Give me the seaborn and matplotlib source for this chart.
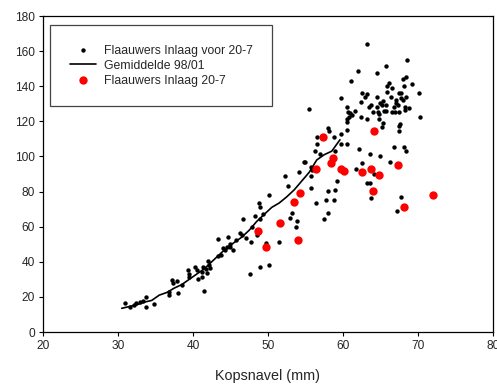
import numpy as np
import pandas as pd
import matplotlib
matplotlib.use('Agg')
import matplotlib.pyplot as plt
import seaborn as sns

# Flaauwers Inlaag voor 20-7 (zwarte punten)
voor_x = [31.0, 31.6, 32.2, 32.4, 32.9, 33.4, 33.7, 33.7, 34.8, 36.8, 36.8, 37.2, 37.3, 37.9,
          38.0, 38.5, 39.3, 39.5, 39.5, 40.3, 40.6, 40.7, 41.2, 41.2, 41.3, 41.5, 41.9, 41.7,
          42.3, 42.0, 42.2, 43.3, 43.3,
          43.8, 44.0, 44.3, 44.5, 45.0, 45.3, 44.7, 45.0, 45.8, 46.3, 46.5, 46.7, 47.1, 47.6,
          47.7, 47.9, 48.3, 48.5, 48.6, 48.7, 48.8, 49.0, 48.9, 48.9, 49.3, 50.2, 50.2,
          58.0, 58.1, 60.5, 58.8, 59.8, 56.5, 56.6, 56.3, 56.9, 59.8, 60.5, 54.9, 55.8, 54.1,
          52.3, 55.7, 52.7, 59.2, 59.0, 58.0, 57.7, 58.8, 56.4, 58.0, 57.5, 53.2, 53.0, 53.9,
          53.8, 51.5, 49.8,
          63.2, 62.0, 64.6, 61.1, 62.5, 62.9, 63.2, 59.7, 64.6, 62.4, 63.5, 63.8, 55.5, 60.5,
          60.7, 61.0, 61.2, 60.8, 60.6, 61.6, 62.4, 63.2, 64.0, 64.5, 60.5, 62.2, 63.6, 54.8,
          68.6, 65.8, 68.4, 68.0, 69.2, 66.2, 65.9, 66.5, 68.1, 65.9, 67.5, 67.8, 70.2, 66.4,
          68.4, 67.7, 68.0, 67.1, 65.4, 64.9, 65.8, 65.2, 67.1, 67.4, 66.8, 68.3, 68.8, 64.7,
          64.8, 65.5, 65.7, 66.6, 66.9, 67.5, 68.3, 64.8, 65.4, 65.2, 67.6, 67.5, 70.3,
          67.5, 58.9, 64.9, 66.8, 68.1, 68.4, 66.3, 62.6, 61.7, 64.2, 63.2, 63.6, 63.7, 67.8,
          67.2, 55.9, 55.7]
voor_y = [16.3, 14.1, 15.4, 16.3, 17.1, 17.5, 20.1, 14.1, 15.9, 23.0, 21.1, 29.6, 28.1, 29.0,
          22.0, 26.6, 35.3, 32.8, 31.4, 37.2, 35.3, 30.0, 31.5, 34.4, 37.2, 23.4, 33.4, 36.0,
          36.5, 40.4, 38.2, 53.0, 43.3,
          43.9, 48.0, 46.7, 48.2, 48.6, 46.7, 54.3, 50.1, 52.4, 56.2, 55.3, 64.2, 53.4, 33.0,
          51.4, 59.6, 66.1, 55.3, 58.1, 56.6, 73.3, 71.4, 37.2, 64.4, 67.2, 78.0, 38.2,
          116.0, 114.5, 119.8, 111.2, 112.6, 111.2, 106.9, 103.1, 101.2, 107.1, 107.1, 97.0, 94.2, 91.0,
          88.9, 88.9, 83.2, 86.2, 80.9, 80.1, 75.2, 75.2, 73.3, 67.6, 64.2, 67.6, 65.1, 63.4,
          60.0, 51.4, 50.5,
          164.0, 148.8, 147.3, 143.1, 136.3, 134.0, 135.4, 133.1, 134.0, 131.2, 128.3, 129.3, 127.0, 128.0,
          125.5, 124.6, 123.6, 122.6, 121.2, 126.1, 122.3, 121.2, 125.5, 128.0, 115.1, 104.2, 101.2, 97.0,
          154.9, 151.5, 145.1, 143.9, 141.1, 142.0, 140.1, 138.8, 140.1, 136.9, 136.3, 136.3, 136.3, 134.0,
          134.0, 133.1, 132.2, 132.2, 131.8, 130.3, 129.3, 129.3, 130.3, 129.3, 128.3, 128.3, 127.4, 125.5,
          124.2, 126.1, 126.1, 125.5, 125.5, 125.5, 126.5, 121.2, 118.9, 116.9, 118.3, 117.3, 122.3,
          114.3, 103.1, 100.3, 105.2, 105.2, 103.1, 97.0, 96.5, 93.0, 90.0, 85.0, 85.0, 76.2, 77.1,
          69.1, 92.3, 82.2]

# Gemiddelde 98/01 (lijn)
gem_x = [30.5, 31.5, 32.5, 33.5, 34.5, 35.5, 36.5, 37.5, 38.5, 39.5, 40.5, 41.5, 42.5, 43.5, 44.5,
         45.5, 46.5, 47.5, 48.5, 49.5, 50.5, 51.5, 52.5, 53.5, 54.5, 55.5, 56.5, 57.5, 58.5, 59.6]
gem_y = [13.5, 14.5, 15.5, 17.0, 18.0, 21.0, 22.5, 25.0, 27.0, 30.0, 33.0, 36.0, 40.0, 44.0, 48.0,
         51.0, 54.0, 58.0, 63.0, 67.0, 71.0, 73.5, 77.0, 81.0, 86.0, 91.0, 98.0, 101.0, 103.0, 109.5]

# Flaauwers Inlaag 20-7 (rode punten)
na_x = [57.3, 58.7, 58.4, 56.4, 59.7, 60.1, 54.3, 53.5, 51.6, 48.7, 54.0, 49.7,
        64.1, 62.6, 63.8, 64.8, 67.4, 64.0, 72.0, 68.2]
na_y = [111.2, 99.3, 96.1, 93.0, 93.0, 91.9, 79.4, 74.2, 62.1, 57.5, 52.4, 48.4,
        114.3, 91.1, 93.0, 89.2, 95.1, 80.3, 78.2, 71.2]

sns.set_style('ticks')
plt.rcParams['font.family'] = ['Liberation Sans', 'DejaVu Sans']

fig = plt.figure(figsize=(4.97, 3.87), dpi=100)
ax = fig.add_axes([0.0865, 0.1421, 0.9054, 0.8165])

sns.scatterplot(x=voor_x, y=voor_y, color='black', s=10, linewidth=0,
                label='Flaauwers Inlaag voor 20-7', ax=ax, zorder=3)
sns.lineplot(x=gem_x, y=gem_y, color='black', linewidth=1.2, sort=False, estimator=None,
             label='Gemiddelde 98/01', ax=ax, zorder=2)
sns.scatterplot(x=na_x, y=na_y, color='#ff0000', s=36, linewidth=0,
                label='Flaauwers Inlaag 20-7', ax=ax, zorder=4)

ax.set_xlim(20, 80)
ax.set_ylim(0, 180)
ax.set_xticks(np.arange(20, 81, 10))
ax.set_yticks(np.arange(0, 181, 20))
ax.tick_params(labelsize=8.6, length=3, width=0.8, color='black', pad=3)
for sp in ax.spines.values():
    sp.set_visible(True)
    sp.set_color('black')
    sp.set_linewidth(0.9)

ax.set_xlabel('Kopsnavel (mm)', fontsize=10.4, labelpad=12)
ax.set_ylabel('')

# legenda: ruime rand zoals in het origineel
leg = ax.legend(loc='upper left', bbox_to_anchor=(0.0156, 0.9715), fontsize=8.8,
                frameon=True, fancybox=False, framealpha=1, edgecolor='#444444',
                borderpad=1.6, labelspacing=0.25, handlelength=2.2, handletextpad=0.6,
                borderaxespad=0)
leg.get_frame().set_linewidth(0.9)

plt.savefig('out.png', dpi=100)
